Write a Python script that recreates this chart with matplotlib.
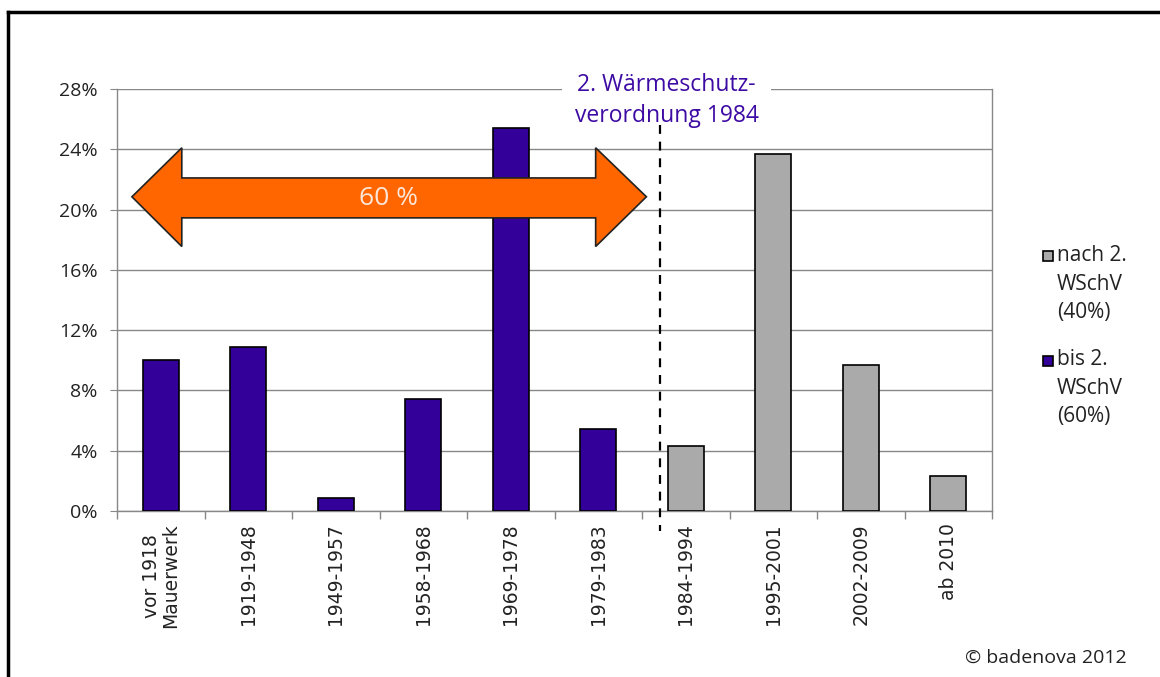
import matplotlib
matplotlib.use("Agg")
import matplotlib.pyplot as plt
from matplotlib.patches import Polygon, Rectangle
from matplotlib.lines import Line2D

# Baualtersklassen and share of buildings (%)
categories = ["vor 1918\nMauerwerk", "1919-1948", "1949-1957", "1958-1968", "1969-1978",
              "1979-1983", "1984-1994", "1995-2001", "2002-2009", "ab 2010"]
shares = [10.0, 10.9, 0.85, 7.45, 25.4, 5.45, 4.3, 23.7, 9.7, 2.3]
groups = ["bis", "bis", "bis", "bis", "bis", "bis", "nach", "nach", "nach", "nach"]
yticks = [0, 4, 8, 12, 16, 20, 24, 28]

purple = "#330099"
grey = "#aaaaaa"
orange = "#ff6600"
text_purple = "#3d0aa3"

plt.rcParams['font.family'] = ['Open Sans', 'DejaVu Sans']

fig = plt.figure(figsize=(11.6, 6.77), dpi=100)
ax = fig.add_axes([0.1009, 0.2452, 0.7543, 0.6233])

colors = [purple if g == "bis" else grey for g in groups]
x = list(range(len(categories)))
ax.bar(x, shares, width=0.41, color=colors, edgecolor="black", linewidth=1.2, zorder=3)

ax.set_xlim(-0.5, len(categories) - 0.5)
ax.set_ylim(0, 28)
ax.set_yticks(yticks)
ax.set_yticklabels([f"{t}%" for t in yticks], fontsize=14, color="#222222")
ax.yaxis.grid(True, color="#888888", linewidth=1, zorder=0)
ax.set_xticks(x)
ax.set_xticklabels(categories, rotation=90, fontsize=13.5, color="#222222",
                   family=['DejaVu Sans'], linespacing=1.0)
ax.tick_params(axis='x', length=0, pad=9)
ax.tick_params(axis='y', length=5, color="#888888", pad=9)
# category boundary ticks
ax.set_xticks([i - 0.5 for i in range(len(categories) + 1)], minor=True)
ax.tick_params(axis='x', which='minor', length=6, color="#888888", width=1)

ax.spines["top"].set_visible(False)
for side in ["left", "bottom", "right"]:
    ax.spines[side].set_color("#888888")
    ax.spines[side].set_linewidth(1)

# orange double arrow
arrow = Polygon([(-0.33, 20.85), (0.24, 24.1), (0.24, 22.1), (4.97, 22.1), (4.97, 24.1),
                 (5.55, 20.85), (4.97, 17.55), (4.97, 19.45), (0.24, 19.45), (0.24, 17.55)],
                closed=True, facecolor=orange, edgecolor="#222222", linewidth=1.2,
                zorder=5, clip_on=False)
ax.add_patch(arrow)
ax.text(2.6, 20.75, "60 %", color="#fbe6d9", fontsize=19, ha="center", va="center", zorder=6)

# dashed separator
ax.plot([5.71, 5.71], [25.6, -1.3], color="black", linestyle=(0, (4, 3.5)), linewidth=1.6,
        zorder=8, clip_on=False)
ax.text(5.78, 27.24, "2. Wärmeschutz-\nverordnung 1984", color=text_purple, fontsize=16.5,
        ha="center", va="center", linespacing=1.38, zorder=7,
        bbox=dict(facecolor="white", edgecolor="none", pad=9))

# legend
fig.patches.append(Rectangle((1043 / 1160, 1 - 261 / 677), 10 / 1160, 10 / 677,
                             transform=fig.transFigure, facecolor=grey, edgecolor="black",
                             linewidth=1.2))
fig.patches.append(Rectangle((1043 / 1160, 1 - 366 / 677), 10 / 1160, 10 / 677,
                             transform=fig.transFigure, facecolor=purple, edgecolor="black",
                             linewidth=1.2))
fig.text(1057 / 1160, 1 - 284 / 677, "nach 2.\nWSchV\n(40%)", fontsize=15, va="center",
         ha="left", color="#222222", linespacing=1.45)
fig.text(1057 / 1160, 1 - 388 / 677, "bis 2.\nWSchV\n(60%)", fontsize=15, va="center",
         ha="left", color="#222222", linespacing=1.45)

fig.text(1127 / 1160, 1 - 658 / 677, "© badenova 2012", fontsize=14, ha="right",
         va="center", color="#222222")

# outer frame (top and left edges)
fig.add_artist(Line2D([8 / 1160, 1.0], [1 - 12 / 677, 1 - 12 / 677], color="black",
                      linewidth=2.5, transform=fig.transFigure))
fig.add_artist(Line2D([8 / 1160, 8 / 1160], [1 - 12 / 677, 0], color="black",
                      linewidth=2.5, transform=fig.transFigure))

fig.savefig("out.png", dpi=100)
